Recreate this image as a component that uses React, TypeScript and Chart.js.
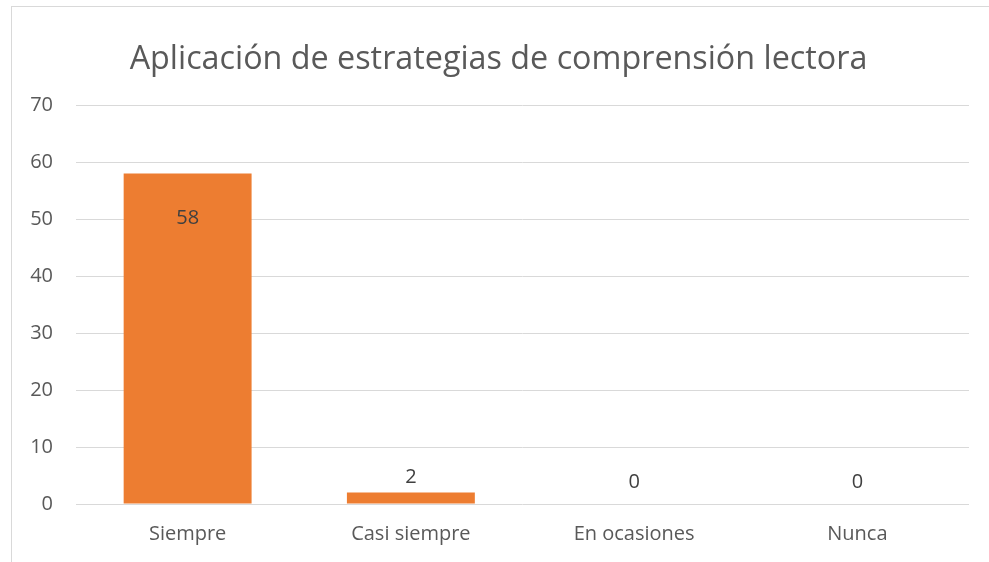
import React, { useEffect, useRef } from "react";
import { Chart, registerables } from "chart.js";

Chart.register(...registerables);

const TITLE = "Aplicación de estrategias de comprensión lectora";
const categories = ["Siempre", "Casi siempre", "En ocasiones", "Nunca"];
const values = [58, 2, 0, 0];
const yTicks = [0, 10, 20, 30, 40, 50, 60, 70];

const FONT = "'Open Sans', sans-serif";

const titlePlugin = {
  id: "customTitle",
  afterDraw(chart: any) {
    const ctx = chart.ctx;
    ctx.save();
    ctx.font = `32.3px ${FONT}`;
    ctx.fillStyle = "#595959";
    ctx.textAlign = "center";
    ctx.textBaseline = "alphabetic";
    ctx.fillText(TITLE, 498.5, 69);
    ctx.restore();
  },
};

const labelPlugin = {
  id: "barLabels",
  afterDatasetsDraw(chart: any) {
    const ctx = chart.ctx;
    const meta = chart.getDatasetMeta(0);
    ctx.save();
    ctx.font = `20px ${FONT}`;
    ctx.fillStyle = "#404040";
    ctx.textAlign = "center";
    ctx.textBaseline = "alphabetic";
    meta.data.forEach((bar: any, i: number) => {
      const v = values[i];
      const h = bar.base - bar.y;
      let y: number;
      if (h > 80) y = bar.y + 51;
      else if (h > 0.5) y = bar.y - 10;
      else y = bar.y - 16;
      ctx.fillText(String(v), bar.x, y);
    });
    ctx.restore();
  },
};

export default function App() {
  const ref = useRef<HTMLCanvasElement>(null);
  useEffect(() => {
    if (!ref.current) return;
    const chart = new Chart(ref.current, {
      type: "bar",
      data: {
        labels: categories,
        datasets: [
          {
            data: values,
            backgroundColor: "#ED7D31",
            barPercentage: 0.573,
            categoryPercentage: 1,
          },
        ],
      },
      options: {
        animation: false,
        responsive: false,
        maintainAspectRatio: false,
        layout: { padding: { top: 105, right: 20, bottom: 0, left: 0 } },
        plugins: {
          legend: { display: false },
          title: { display: false },
          tooltip: { enabled: false },
        },
        scales: {
          x: {
            afterFit: (s: any) => {
              s.height = 58;
            },
            grid: { display: false, drawTicks: false },
            border: { display: false },
            ticks: {
              color: "#595959",
              font: { family: FONT, size: 20 },
              padding: 18,
              maxRotation: 0,
            },
          },
          y: {
            min: 0,
            max: 70,
            afterFit: (s: any) => {
              s.width = 76;
            },
            afterBuildTicks: (s: any) => {
              s.ticks = yTicks.map((v) => ({ value: v }));
            },
            grid: { color: "#d9d9d9", lineWidth: 1, drawTicks: false },
            border: { display: false },
            ticks: {
              color: "#595959",
              font: { family: FONT, size: 20 },
              padding: 23,
            },
          },
        },
      },
      plugins: [titlePlugin, labelPlugin],
    });
    return () => chart.destroy();
  }, []);
  return (
    <div style={{ position: "fixed", left: 0, top: 0, width: 989, height: 562, overflow: "hidden", background: "#fff" }}>
      <div
        style={{
          position: "absolute",
          left: 11,
          top: 6,
          width: 1100,
          height: 700,
          border: "1px solid #d9d9d9",
        }}
      />
      <canvas ref={ref} width={989} height={562} style={{ position: "absolute", left: 0, top: 0 }} />
    </div>
  );
}
